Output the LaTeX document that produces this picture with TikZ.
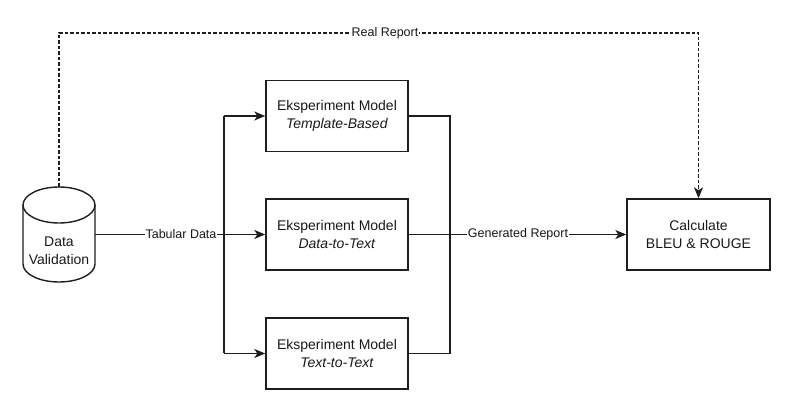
\documentclass[tikz,border=0pt]{standalone}
\usepackage{fontspec}
\setmainfont{Liberation Sans}
\usetikzlibrary{arrows.meta}
\begin{document}
\begin{tikzpicture}[x=1pt,y=1pt,
  line width=1.4pt, draw={rgb,255:red,30;green,30;blue,30},
  boxnode/.style={draw, rectangle, minimum width=142pt, minimum height=71pt, inner sep=0pt,
    align=center, font=\fontsize{14}{18}\selectfont, text={rgb,255:red,25;green,25;blue,25}},
  lbl/.style={fill=white, inner sep=1pt, font=\fontsize{12.5}{15}\selectfont, text={rgb,255:red,25;green,25;blue,25}},
  arr/.style={-{Stealth[length=11pt,width=9pt,inset=3pt]}},
  dsh/.style={dash pattern=on 3.5pt off 2pt}
]
\useasboundingbox (0,0) rectangle (799,403);
% cylinder
\node[minimum width=72pt, minimum height=95pt, inner sep=0pt, align=center,
  font=\fontsize{14}{18}\selectfont, text={rgb,255:red,25;green,25;blue,25}] (dv) at (59,152) {Data\\Validation};
\coordinate (dvtop) at (59,216);
\coordinate (dvright) at (95,168.5);
\draw (23,198) -- (23,139) .. controls (23,129.06) and (39.12,121) .. (59,121)
  .. controls (78.88,121) and (95,129.06) .. (95,139) -- (95,198);
\draw (59,198) ellipse [x radius=36pt, y radius=18pt];
% boxes
\node[boxnode] (b1) at (337,287) {Eksperiment Model\\\textit{Template-Based}};
\node[boxnode] (b2) at (337,168.5) {Eksperiment Model\\\textit{Data-to-Text}};
\node[boxnode] (b3) at (337,49.5) {Eksperiment Model\\\textit{Text-to-Text}};
\node[boxnode, minimum width=143pt] (calc) at (698.5,168.5) {Calculate\\BLEU \& ROUGE};
% split / merge
\coordinate (split) at (224,168.5);
\coordinate (s1) at (224,287);
\coordinate (s3) at (224,49.5);
\coordinate (m1) at (450,287);
\coordinate (m3) at (450,49.5);
\draw (dvright) -- (split);
\draw[arr] (s1) -- (b1.west);
\draw[arr] (split) -- (b2.west);
\draw[arr] (s3) -- (b3.west);
\draw (s1) -- (s3);
\draw (b1.east) -- (m1) -- (m3) -- (b3.east);
\draw[arr] (b2.east) -- (calc.west);
\node[lbl] (tab) at (181,168.5) {Tabular Data};
\node[lbl] (gen) at (518,168.5) {Generated Report};
% dashed
\coordinate (c1) at (59,370);
\coordinate (c2) at (698.5,370);
\draw[arr, dsh] (dvtop) -- (c1) -- (c2) -- (calc.north);
\node[lbl] (real) at (385,370) {Real Report};
\end{tikzpicture}
\end{document}
